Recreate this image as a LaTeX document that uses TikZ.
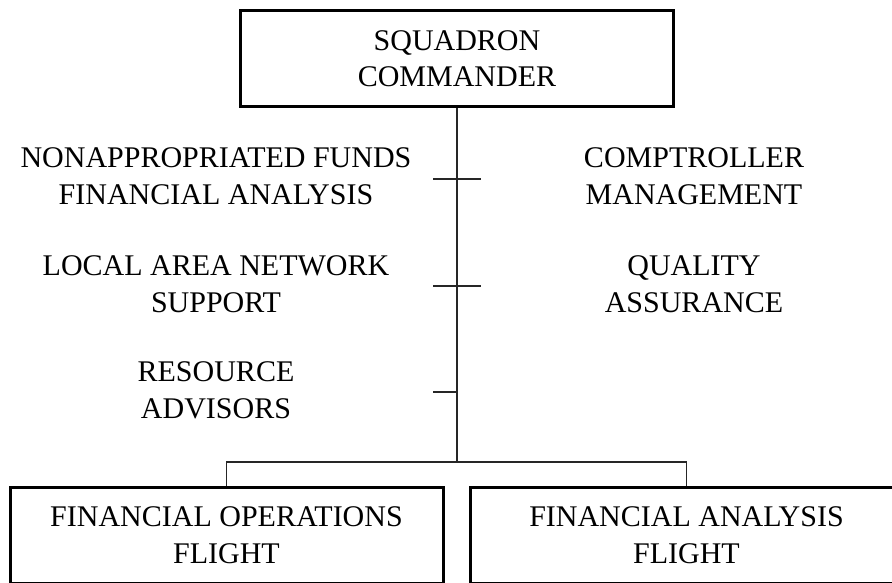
\documentclass[tikz,border=0pt]{standalone}
\usepackage{fontspec}
\setmainfont{Liberation Serif}
\usetikzlibrary{positioning}

\begin{document}
\begin{tikzpicture}[x=1pt, y=-1pt,
    every node/.style={font=\fontsize{30}{36.5}\selectfont, align=center},
    unitbox/.style={draw, line width=3pt, minimum width=433pt, minimum height=96pt, inner sep=2pt},
    staff/.style={inner sep=0pt},
    link/.style={line width=1.4pt, draw=black!85}]
    \useasboundingbox (0,0) rectangle (892,583);
    % Top node
    \node (sqcc) [unitbox] at (457,58.5) {SQUADRON\\COMMANDER};
    % Bottom-left node
    \node (finops) [unitbox] at (226.5,535) {FINANCIAL OPERATIONS\\FLIGHT};
    % Bottom-right node
    \node (finan) [unitbox, right=24pt of finops] {FINANCIAL ANALYSIS\\FLIGHT};

    % Staff offices, left
    \node (nafi) [staff] at (216,176) {NONAPPROPRIATED FUNDS\\FINANCIAL ANALYSIS};
    \node (lan) [staff] at (216,284) {LOCAL AREA NETWORK\\SUPPORT};
    \node (resadv) [staff] at (216,390.5) {RESOURCE\\ADVISORS};
    % Staff offices, right
    \node (compt) [staff] at (694,176) {COMPTROLLER\\MANAGEMENT};
    \node (qa) [staff] at (694,284) {QUALITY\\ASSURANCE};

    % Spine
    \coordinate (bar) at (457,462);
    \draw[link] (sqcc) -- (bar);
    % Ticks
    \coordinate (tickl1) at (433,179);
    \coordinate (tickr1) at (481,179);
    \coordinate (tickl2) at (433,286);
    \coordinate (tickr2) at (481,286);
    \coordinate (tickl3) at (433,392);
    \coordinate (tickm3) at (457,392);
    \draw[link] (tickl1) -- (tickr1);
    \draw[link] (tickl2) -- (tickr2);
    \draw[link] (tickl3) -- (tickm3);

    % Edges
    \draw[link] (finops) |- (bar) -| (finan);
\end{tikzpicture}
\end{document}
